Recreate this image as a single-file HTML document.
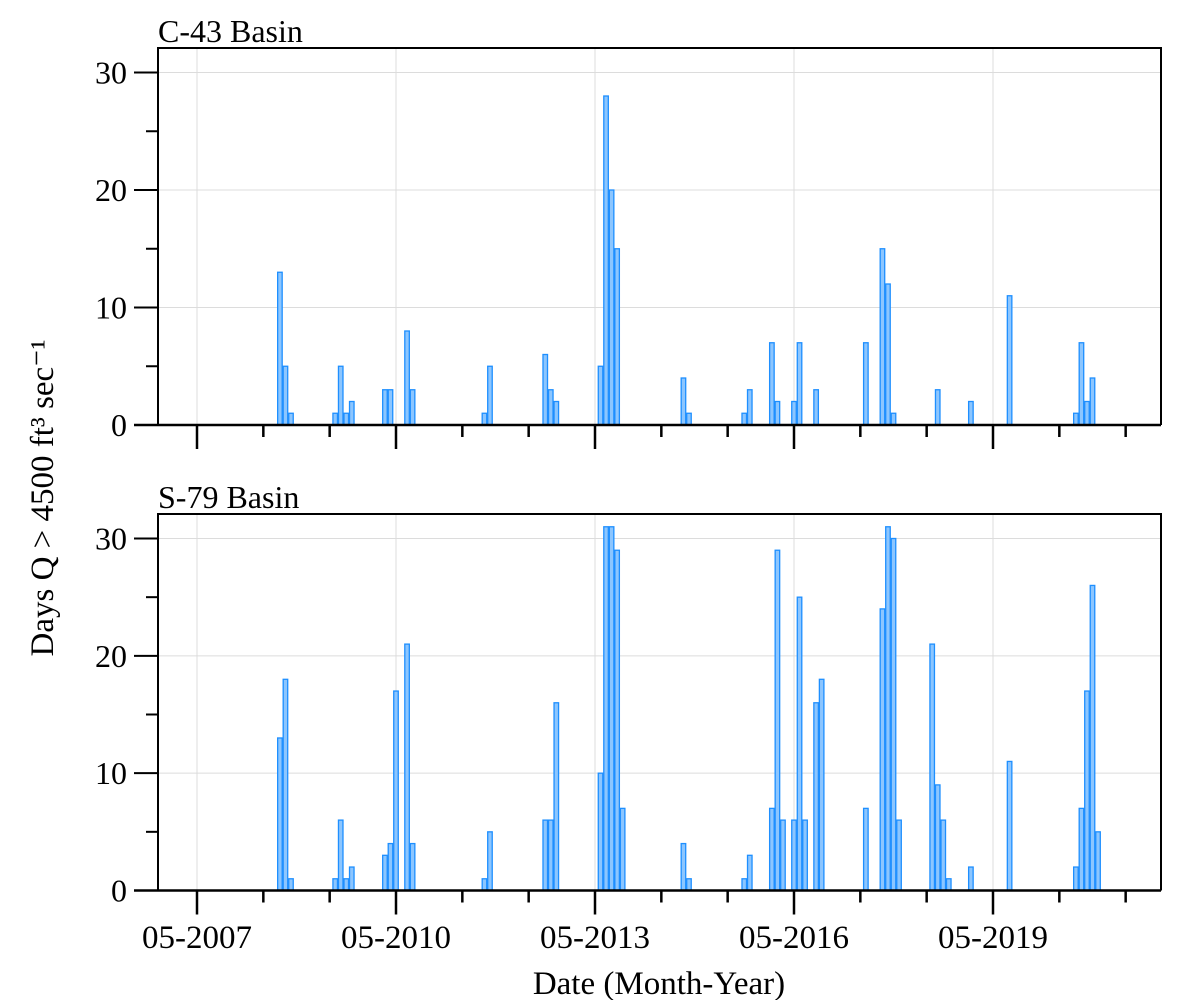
<!DOCTYPE html>
<html><head><meta charset="utf-8"><style>
html,body{margin:0;padding:0;background:#fff;}
svg text{font-family:"Liberation Serif",serif;fill:#000;}
</style></head><body>
<svg id="chart" width="1200" height="1000" viewBox="0 0 1200 1000" xmlns="http://www.w3.org/2000/svg">
<text x="659" y="994" font-size="33" text-anchor="middle">Date (Month-Year)</text>
<text transform="translate(53,498) rotate(-90)" font-size="33" text-anchor="middle">Days Q &gt; 4500 ft³ sec⁻¹</text>
</svg>
<script>
// month index 0 = May 2007
const c43Months = [15,16,17,25,26,27,28,34,35,38,39,52,53,63,64,65,73,74,75,76,88,89,99,100,104,105,108,109,112,121,124,125,126,134,140,147,159,160,161,162];
const c43Values = [13,5,1,1,5,1,2,3,3,8,3,1,5,6,3,2,5,28,20,15,4,1,1,3,7,2,2,7,3,7,15,12,1,3,2,11,1,7,2,4];
const s79Months = [15,16,17,25,26,27,28,34,35,36,38,39,52,53,63,64,65,73,74,75,76,77,88,89,99,100,104,105,106,108,109,110,112,113,121,124,125,126,127,133,134,135,136,140,147,159,160,161,162,163];
const s79Values = [13,18,1,1,6,1,2,3,4,17,21,4,1,5,6,6,16,10,31,31,29,7,4,1,1,3,7,29,6,6,25,6,16,18,7,24,31,30,6,21,9,6,1,2,11,2,7,17,26,5];
const yTicks = [0,10,20,30];
const yMinor = [5,15,25];
const xTickLabels = ["05-2007","05-2010","05-2013","05-2016","05-2019"];
const xMajorMonths = [0,36,72,108,144];
const xMinorMonths = [12,24,48,60,84,96,120,132,156,168];

const NS = "http://www.w3.org/2000/svg";
const svg = document.getElementById('chart');
const X0 = 197, PXM = 199/36;
function xScale(m){ return X0 + m*PXM; }
function mk(tag, attrs, parent){
  const e = document.createElementNS(NS, tag);
  for (const k in attrs) e.setAttribute(k, attrs[k]);
  (parent||svg).appendChild(e); return e;
}
function panel(name, title, top, y0, months, values){
  const L=158, R=1161;
  const yScale = v => y0 - v*(y0-(top+24.5))/30;
  const g = mk('g', {});
  
  
  yTicks.forEach(t => { if(t>0){ const l = mk('line',{x1:L,x2:R,y1:yScale(t),y2:yScale(t),stroke:'#dcdcdc','stroke-width':1},g);
      }});
  xMajorMonths.forEach(m => { const l = mk('line',{x1:xScale(m),x2:xScale(m),y1:top,y2:y0,stroke:'#dcdcdc','stroke-width':1},g);
      });
  months.forEach((m,i) => {
    const w = PXM, x = xScale(m)-w/2, y = yScale(values[i]);
    const b = mk('rect',{x:x+0.5,y:y,width:w-1,height:y0-y,fill:'#8cc6ff',stroke:'#1e8fff','stroke-width':1.3},g);
    
    
  });
  const f = mk('path',{d:`M${L},${y0} L${L},${top} L${R},${top} L${R},${y0}`,fill:'none',stroke:'#000','stroke-width':2},g);
   
  const ax = mk('line',{x1:134,x2:R,y1:y0,y2:y0,stroke:'#000','stroke-width':2.5},g);
   
  yTicks.forEach(t => {
    const y = yScale(t);
    mk('line',{x1:134,x2:L,y1:y,y2:y,stroke:'#000','stroke-width':2},g);
    const tx = mk('text',{x:127,y:y+11,'font-size':32,'text-anchor':'end'},g);
    tx.textContent = t;
     
  });
  yMinor.forEach(t => { const y=yScale(t); mk('line',{x1:146,x2:L,y1:y,y2:y,stroke:'#000','stroke-width':2},g); });
  xMajorMonths.forEach(m => mk('line',{x1:xScale(m),x2:xScale(m),y1:y0,y2:y0+24,stroke:'#000','stroke-width':2.5},g));
  xMinorMonths.forEach(m => mk('line',{x1:xScale(m),x2:xScale(m),y1:y0,y2:y0+12,stroke:'#000','stroke-width':2.5},g));
  const tt = mk('text',{x:L,y:top-6,'font-size':32},g);
  tt.textContent = title;
   
}
panel('c43','C-43 Basin',48,425,c43Months,c43Values);
panel('s79','S-79 Basin',514,890.5,s79Months,s79Values);
xMajorMonths.forEach((m,i) => {
  const t = mk('text',{x:xScale(m),y:948,'font-size':33,'text-anchor':'middle'});
  t.textContent = xTickLabels[i];
  
  
});
</script>
</body></html>
